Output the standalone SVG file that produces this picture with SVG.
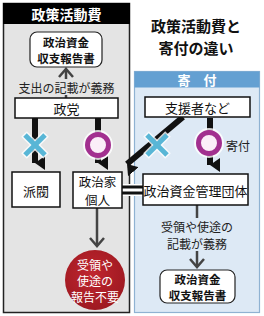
<svg xmlns="http://www.w3.org/2000/svg" width="264" height="316" viewBox="0 0 264 316">
<defs>
<style>
text{font-family:"Noto Sans CJK JP","Noto Sans",sans-serif;text-anchor:middle;dominant-baseline:central}
.box{fill:#fff;stroke:#111;stroke-width:1.5}
.rep{fill:#fff;stroke:#222;stroke-width:1.2}
.t13{font-size:13px;fill:#111}
.t12{font-size:12px;fill:#222}
.rept{font-size:11.5px;font-weight:bold;fill:#111}
.thick{stroke:#111;stroke-width:6;fill:none}
.thin{stroke:#444;stroke-width:2.5;fill:none}
.chev{stroke:#444;stroke-width:2.5;fill:none;stroke-linejoin:miter}
.xmark{stroke:#58b6d6;stroke-width:5;stroke-linecap:butt}
.xhalo{stroke:#fff;stroke-width:8;stroke-linecap:butt;opacity:0.8}
.ok{fill:#fbeef8;stroke:#a2308f;stroke-width:5}
.okhalo{fill:none;stroke:#fff;stroke-width:8;opacity:0.8}
.red{font-size:12px;fill:#fff}
</style>
<radialGradient id="redg" cx="0.45" cy="0.4" r="0.65">
<stop offset="0" stop-color="#c0262f"/>
<stop offset="1" stop-color="#9c1820"/>
</radialGradient>
<marker id="head" viewBox="0 0 14 10" refX="7" refY="10" markerWidth="14" markerHeight="10" markerUnits="userSpaceOnUse" orient="auto-start-reverse">
<path d="M0,0 L14,0 L7,10 Z" fill="#111"/>
</marker>
</defs>

<!-- panels -->
<g id="panel-left">
<rect x="3.5" y="3.5" width="126" height="309" fill="#e4e4e4" stroke="#222" stroke-width="1.5"/>
<rect x="3" y="3" width="127" height="21" fill="#000"/>
<text x="66.5" y="14" style="font-size:14px;font-weight:bold;fill:#fff">政策活動費</text>
</g>
<g id="panel-right">
<rect x="134.5" y="71.5" width="125" height="241" fill="#dde9f5" stroke="#8fb2d2" stroke-width="1.2"/>
<rect x="134.5" y="71.5" width="125" height="16" fill="#64a0d2"/>
<text x="197" y="79.5" style="font-size:13px;font-weight:bold;fill:#fff">寄　付</text>
</g>
<g id="title">
<text style="font-size:15px;font-weight:bold;fill:#111"><tspan x="196" y="25">政策活動費と</tspan><tspan x="196" y="47">寄付の違い</tspan></text>
</g>

<!-- connectors -->
<g id="connectors">
<line x1="66" y1="98" x2="66" y2="70" class="thin"/>
<path d="M59,77 L66,69 L73,77" class="chev"/>
<rect x="17" y="79" width="99" height="16" fill="#e4e4e4"/>
<text x="66.5" y="87" class="t12">支出の記載が義務</text>

<line x1="35" y1="118" x2="35" y2="163" class="thick" marker-end="url(#head)"/>
<line x1="98" y1="118" x2="98" y2="163" class="thick" marker-end="url(#head)"/>
<line x1="210" y1="118" x2="210" y2="165" class="thick" marker-end="url(#head)"/>
<line x1="183" y1="117" x2="127" y2="164" class="thick" marker-end="url(#head)"/>

<g>
<line x1="24" y1="134" x2="46" y2="156" class="xhalo"/>
<line x1="46" y1="134" x2="24" y2="156" class="xhalo"/>
<line x1="25" y1="135" x2="45" y2="155" class="xmark"/>
<line x1="45" y1="135" x2="25" y2="155" class="xmark"/>
</g>
<g>
<line x1="146" y1="134" x2="168" y2="156" class="xhalo"/>
<line x1="168" y1="134" x2="146" y2="156" class="xhalo"/>
<line x1="147" y1="135" x2="167" y2="155" class="xmark"/>
<line x1="167" y1="135" x2="147" y2="155" class="xmark"/>
</g>
<circle cx="98" cy="145" r="11" class="okhalo"/>
<circle cx="98" cy="145" r="10.5" class="ok"/>
<circle cx="209" cy="143" r="11" class="okhalo"/>
<circle cx="209" cy="143" r="10.5" class="ok"/>
<text x="238" y="145" class="t12">寄付</text>

<rect x="122" y="184" width="21" height="12" fill="#fff"/>
<rect x="122" y="185.5" width="21" height="3" fill="#111"/>
<rect x="122" y="191.5" width="21" height="3" fill="#111"/>

<line x1="97" y1="208" x2="97" y2="245" class="thin"/>
<path d="M90,238 L97,246 L104,238" class="chev"/>

<line x1="197" y1="205" x2="197" y2="266" class="thin"/>
<path d="M190,259 L197,267 L204,259" class="chev"/>
<rect x="155" y="218" width="84" height="33" fill="#dde9f5"/>
<text class="t12"><tspan x="197" y="226">受領や使途の</tspan><tspan x="197" y="242.5">記載が義務</tspan></text>
</g>

<!-- nodes -->
<g id="report-left">
<rect x="30" y="32" width="72" height="35" rx="7" class="rep"/>
<text class="rept"><tspan x="66" y="42">政治資金</tspan><tspan x="66" y="58">収支報告書</tspan></text>
</g>
<g id="seitou">
<rect x="15" y="98" width="103" height="20" class="box"/>
<text x="66.5" y="108.5" class="t13">政党</text>
</g>
<g id="habatsu">
<rect x="12" y="172" width="48" height="35" class="box"/>
<text x="36" y="190" class="t13">派閥</text>
</g>
<g id="kojin">
<rect x="73" y="172" width="49" height="36" class="box"/>
<text style="font-size:12.5px;fill:#111"><tspan x="97.5" y="180.5">政治家</tspan><tspan x="97.5" y="199">個人</tspan></text>
</g>
<g id="no-report">
<circle cx="95" cy="280" r="30" fill="url(#redg)"/>
<text class="red"><tspan x="95" y="264">受領や</tspan><tspan x="95" y="280">使途の</tspan><tspan x="95" y="296">報告不要</tspan></text>
</g>
<g id="shiensha">
<rect x="145" y="97" width="105" height="20" class="box"/>
<text x="197.5" y="107.5" class="t13">支援者など</text>
</g>
<g id="kanri">
<rect x="143" y="174" width="105" height="31" class="box"/>
<text x="195.5" y="190" class="t13">政治資金管理団体</text>
</g>
<g id="report-right">
<rect x="160" y="270" width="75" height="33" rx="7" class="rep"/>
<text class="rept"><tspan x="197.5" y="279">政治資金</tspan><tspan x="197.5" y="295">収支報告書</tspan></text>
</g>
</svg>
